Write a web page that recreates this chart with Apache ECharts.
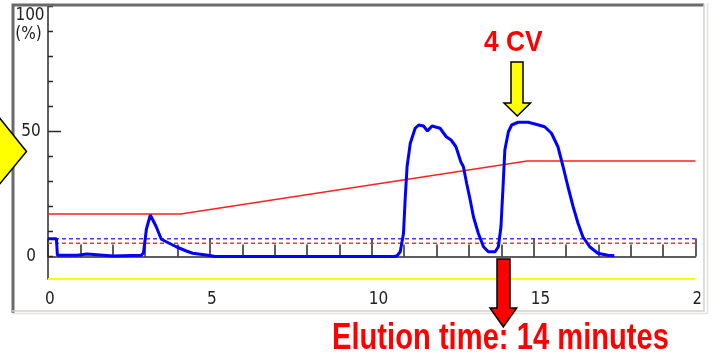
<!DOCTYPE html>
<html>
<head>
<meta charset="utf-8">
<script src="https://cdn.jsdelivr.net/npm/echarts@6/dist/echarts.min.js"></script>
<style>
  html, body { margin: 0; padding: 0; background: #fff; }
  #chart { width: 715px; height: 356px; }
</style>
</head>
<body>
<div id="chart"></div>
<script>
// elution profile (time in minutes, absorbance in %)
var uvTime = [0, 0.26, 0.29, 0.9, 0.95, 1.2, 1.25, 2.0, 2.05, 2.88, 2.95, 3.04, 3.16, 3.34, 3.5, 3.96, 4.27, 4.47, 5.0, 5.15,
  10.7, 10.78, 10.88, 10.98, 11.03, 11.09, 11.19, 11.34, 11.45, 11.6, 11.72, 11.77, 11.86, 12.11, 12.3, 12.45, 12.6, 12.75,
  12.83, 12.93, 13.04, 13.14, 13.29, 13.45, 13.6, 13.81, 13.91, 13.99, 14.06, 14.11, 14.22, 14.32, 14.52, 14.83, 15.04,
  15.34, 15.55, 15.75, 15.91, 16.06, 16.22, 16.37, 16.52, 16.73, 16.98, 17.29, 17.49];
var uvValue = [7.1, 7.1, 0.5, 0.5, 1.0, 1.0, 0.2, 0.2, 0.5, 0.5, 1.5, 11, 16.6, 12, 6.9, 3.9, 2.2, 1.3, 0.4, 0,
  0, 0.3, 1.9, 9.3, 22.6, 35.9, 45.3, 51.3, 52.6, 52.2, 50.2, 50.0, 52.2, 51.3, 47.9, 46.6, 43.9, 37.9,
  35.9, 29.3, 22.6, 15.9, 9.3, 3.9, 1.9, 1.9, 3.9, 11.9, 29.3, 42.6, 49.9, 52.6, 53.7, 53.7, 53.0,
  51.9, 49.3, 43.9, 35.9, 27.9, 19.9, 13.3, 7.9, 3.9, 1.3, 0.5, 0.3];

// gradient (%B)
var gradTime = [0, 4.1, 14.8, 20];
var gradValue = [17, 17, 38.2, 38.2];

// reference levels
var blueLevel = 7.1;
var redLevel = 5.3;
var baseLevel = -9;

var xTicks = [0, 5, 10, 15, 20];
var yTicks = [0, 10, 20, 30, 40, 50, 60, 70, 80, 90, 100];
var yMajorTicks = [50];
var yLabels = [0, 50];

var narrow = "'Liberation Sans Narrow', 'DejaVu Sans Condensed', 'Arial Narrow', sans-serif";
var axisColor = '#2a2a2a';

function zip(xs, ys) {
  return xs.map(function (x, i) { return [x, ys[i]]; });
}
function flat(v) {
  return [[0, v], [20, v]];
}

var chart = echarts.init(document.getElementById('chart'));

var option = {
  animation: false,
  backgroundColor: '#fff',
  grid: { left: 48, right: 17, top: 6.5, bottom: 77 },
  xAxis: [{
    type: 'value',
    min: 0,
    max: 20,
    interval: 5,
    position: 'bottom',
    axisLine: { onZero: true, lineStyle: { color: axisColor, width: 1.5 } },
    axisTick: { inside: true, length: 18, lineStyle: { color: axisColor, width: 1.5 } },
    minorTick: { show: true, splitNumber: 5, length: 12, lineStyle: { color: axisColor, width: 1.5 } },
    axisLabel: {
      customValues: xTicks,
      margin: 12,
      align: 'left',
      padding: [0, 0, 0, -3],
      color: '#222',
      fontFamily: narrow,
      fontSize: 17
    },
    splitLine: { show: false },
    minorSplitLine: { show: false }
  }],
  yAxis: [{
    type: 'value',
    min: baseLevel,
    max: 100,
    position: 'left',
    axisLine: { onZero: false, lineStyle: { color: axisColor, width: 1.5 } },
    axisTick: { show: false },
    axisLabel: {
      customValues: yLabels,
      margin: 17,
      align: 'center',
      color: '#222',
      fontFamily: narrow,
      fontSize: 17
    },
    splitLine: { show: false }
  }],
  series: [
    {
      // y ticks pointing into the plot
      type: 'custom',
      silent: true,
      clip: false,
      encode: { x: 0, y: 1 },
      data: yTicks.map(function (v) { return [0, v, yMajorTicks.indexOf(v) >= 0 ? 13 : 5]; }),
      renderItem: function (params, api) {
        var p = api.coord([api.value(0), api.value(1)]);
        return {
          type: 'line',
          shape: { x1: p[0], y1: p[1], x2: p[0] + api.value(2), y2: p[1] },
          style: { stroke: axisColor, lineWidth: 1.5 }
        };
      },
      z: 1
    },
    {
      type: 'line', data: flat(baseLevel), symbol: 'none', silent: true,
      lineStyle: { color: '#ffff00', width: 2 }, z: 2
    },
    {
      type: 'line', data: flat(redLevel), symbol: 'none', silent: true,
      lineStyle: { color: '#ff3030', width: 1.5, type: [4, 3] }, z: 3
    },
    {
      type: 'line', data: flat(blueLevel), symbol: 'none', silent: true,
      lineStyle: { color: '#3a3aff', width: 1.5, type: [4, 3] }, z: 3
    },
    {
      type: 'line', data: zip(gradTime, gradValue), symbol: 'none', silent: true,
      lineStyle: { color: '#ff2020', width: 1.5 }, z: 4
    },
    {
      type: 'line', data: zip(uvTime, uvValue), symbol: 'none', silent: true,
      lineStyle: { color: '#0000ff', width: 3 }, z: 5
    }
  ],
  graphic: [
    // clip of last x label at the panel edge
    { type: 'rect', shape: { x: 700.5, y: 284, width: 15, height: 27 }, style: { fill: '#fff' }, z: 9 },
    // sunken panel border
    { type: 'polyline', shape: { points: [[13, 313], [13, 5], [704, 5]] }, style: { stroke: '#6a6a6a', lineWidth: 3, fill: null }, z: 10 },
    { type: 'polyline', shape: { points: [[12, 311], [704, 311], [704, 4]] }, style: { stroke: '#d4d0c8', lineWidth: 1.5, fill: null }, z: 10 },
    { type: 'polyline', shape: { points: [[12, 313.5], [707.5, 313.5], [707.5, 3]] }, style: { stroke: '#e4e2dc', lineWidth: 1.5, fill: null }, z: 10 },
    // y axis top label
    { type: 'text', x: 30, y: 16, style: { text: '100', fill: '#222', font: '17px ' + narrow, textAlign: 'center', textVerticalAlign: 'middle' }, z: 11 },
    { type: 'text', x: 28.5, y: 35, style: { text: '(%)', fill: '#222', font: '17px ' + narrow, textAlign: 'center', textVerticalAlign: 'middle' }, z: 11 },
    // left yellow arrow
    { type: 'polygon', shape: { points: [[-2, 116], [26.5, 151.5], [-2, 186]] }, style: { fill: '#ffff00', stroke: '#000', lineWidth: 1.5 }, z: 12 },
    // 4 CV arrow
    { type: 'polygon', shape: { points: [[511, 62], [523, 62], [523, 103], [530.5, 103], [517.3, 116], [504, 103], [511, 103]] }, style: { fill: '#ffff00', stroke: '#000', lineWidth: 1.5 }, z: 12 },
    { type: 'text', x: 484, y: 43, scaleX: 0.88, style: { text: '4 CV', fill: '#ff0000', font: 'bold 30px "Liberation Sans", Arial, sans-serif', textAlign: 'left', textVerticalAlign: 'middle' }, z: 12 },
    // elution arrow
    { type: 'polygon', shape: { points: [[497, 259], [510, 259], [510, 308], [516.7, 308], [503.3, 327], [490, 308], [497, 308]] }, style: { fill: '#ff0000', stroke: '#000', lineWidth: 1.5 }, z: 12 },
    { type: 'text', x: 332, y: 339, scaleX: 0.81, style: { text: 'Elution time: 14 minutes', fill: '#ff0000', font: 'bold 36px "Liberation Sans", Arial, sans-serif', textAlign: 'left', textVerticalAlign: 'middle' }, z: 13 }
  ]
};

chart.setOption(option);
</script>
</body>
</html>
